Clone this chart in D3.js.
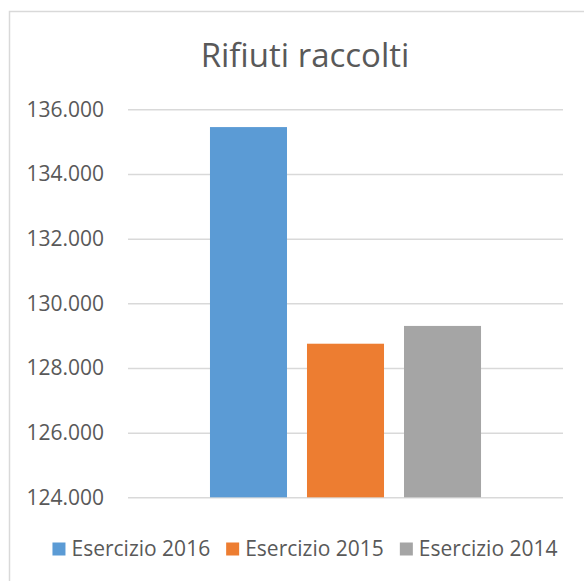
<!DOCTYPE html>
<html>
<head>
<meta charset="utf-8">
<script src="https://cdn.jsdelivr.net/npm/d3@7"></script>
<style>
  html, body { margin: 0; padding: 0; background: #fff; }
  svg { display: block; }
</style>
</head>
<body>
<div id="chart"></div>
<script>
const series = ['Esercizio 2016', 'Esercizio 2015', 'Esercizio 2014'];
const values = [135450, 128750, 129300];
const colors = ['#5b9bd5', '#ed7d31', '#a5a5a5'];
const yTicks = [124000, 126000, 128000, 130000, 132000, 134000, 136000];

const W = 584, H = 581;
const font = '"Open Sans", sans-serif';
const textColor = '#595959';

const svg = d3.select('#chart').append('svg')
  .attr('width', W).attr('height', H);

// chart frame
svg.append('rect')
  .attr('x', 9.5).attr('y', 11.5)
  .attr('width', W + 10).attr('height', H + 10)
  .attr('fill', '#fff').attr('stroke', '#d9d9d9').attr('stroke-width', 1.5);

// title
svg.append('text')
  .attr('x', 305).attr('y', 67)
  .attr('text-anchor', 'middle')
  .attr('font-family', font).attr('font-size', '33px')
  .attr('fill', textColor)
  .text('Rifiuti raccolti');

const plot = { left: 128, right: 563, top: 109.3, bottom: 497.3 };

const y = d3.scaleLinear().domain([124000, 136000]).range([plot.bottom, plot.top]);
const x = d3.scaleBand().domain(series).range([plot.left, plot.right])
  .paddingInner(0.206).paddingOuter(0.845);

const fmt = d => d3.format('.3f')(d / 1000);

// gridlines + tick labels
svg.append('g')
  .attr('transform', `translate(${plot.left},0)`)
  .call(d3.axisLeft(y).tickValues(yTicks).tickSize(-(plot.right - plot.left)).tickPadding(24)
    .tickFormat(fmt))
  .call(g => g.select('.domain').remove())
  .call(g => g.selectAll('.tick line').attr('stroke', '#d9d9d9').attr('stroke-width', 1.5))
  .call(g => g.selectAll('.tick text')
    .attr('fill', textColor).attr('font-family', font).attr('font-size', '21px'));

// bars
svg.selectAll('rect.bar').data(series).join('rect')
  .attr('class', 'bar')
  .attr('x', d => x(d))
  .attr('width', x.bandwidth())
  .attr('y', (d, i) => y(values[i]))
  .attr('height', (d, i) => y(124000) - y(values[i]))
  .attr('fill', (d, i) => colors[i]);

// legend
const legend = svg.append('g');
const sq = 13, gapText = 6, gapItem = 16;
const items = legend.selectAll('g').data(series).join('g');
items.append('rect')
  .attr('width', sq).attr('height', sq)
  .attr('y', -sq / 2)
  .attr('fill', (d, i) => colors[i]);
items.append('text')
  .attr('x', sq + gapText).attr('dy', '0.35em')
  .attr('font-family', font).attr('font-size', '21px')
  .attr('fill', textColor)
  .text(d => d);

let offset = 0;
const widths = [];
items.each(function () { widths.push(this.getBBox().width); });
const total = d3.sum(widths) + gapItem * (widths.length - 1);
const startX = 305 - total / 2;
items.attr('transform', (d, i) => {
  const tx = startX + offset;
  offset += widths[i] + gapItem;
  return `translate(${tx},549)`;
});
</script>
</body>
</html>
